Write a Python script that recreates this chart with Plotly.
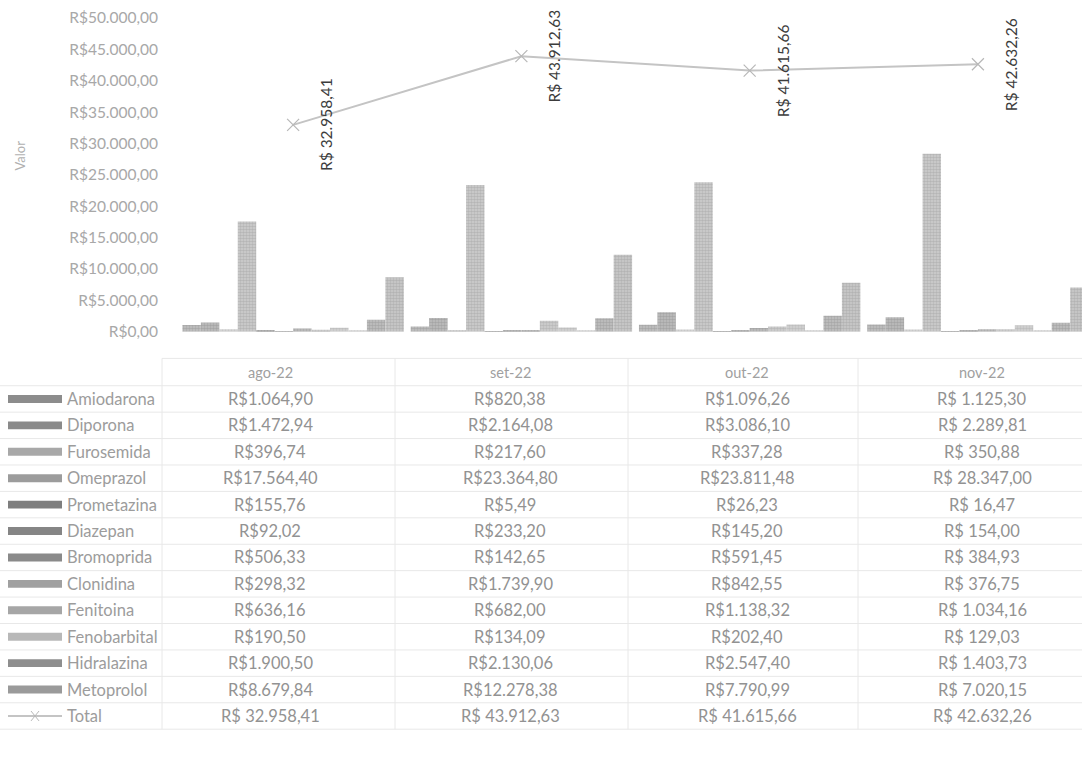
import plotly.graph_objects as go

# ---------------- data ----------------
months = ["ago-22", "set-22", "out-22", "nov-22"]
medicines = ["Amiodarona", "Diporona", "Furosemida", "Omeprazol", "Prometazina",
             "Diazepan", "Bromoprida", "Clonidina", "Fenitoina", "Fenobarbital",
             "Hidralazina", "Metoprolol"]
amiodarona = [1064.90, 820.38, 1096.26, 1125.30]
diporona = [1472.94, 2164.08, 3086.10, 2289.81]
furosemida = [396.74, 217.60, 337.28, 350.88]
omeprazol = [17564.40, 23364.80, 23811.48, 28347.00]
prometazina = [155.76, 5.49, 26.23, 16.47]
diazepan = [92.02, 233.20, 145.20, 154.00]
bromoprida = [506.33, 142.65, 591.45, 384.93]
clonidina = [298.32, 1739.90, 842.55, 376.75]
fenitoina = [636.16, 682.00, 1138.32, 1034.16]
fenobarbital = [190.50, 134.09, 202.40, 129.03]
hidralazina = [1900.50, 2130.06, 2547.40, 1403.73]
metoprolol = [8679.84, 12278.38, 7790.99, 7020.15]
total = [32958.41, 43912.63, 41615.66, 42632.26]

series_values = [amiodarona, diporona, furosemida, omeprazol, prometazina, diazepan,
                 bromoprida, clonidina, fenitoina, fenobarbital, hidralazina, metoprolol]

# ---------------- styles ----------------
fg = ["#8c8c8c", "#8a8a8a", "#a8a8a8", "#9c9c9c", "#7e7e7e", "#858585",
      "#8a8a8a", "#a0a0a0", "#a6a6a6", "#b8b8b8", "#8e8e8e", "#9a9a9a"]
bg = ["#c4c4c4", "#c0c0c0", "#d8d8d8", "#cfcfcf", "#b8b8b8", "#bdbdbd",
      "#c0c0c0", "#d2d2d2", "#d6d6d6", "#e2e2e2", "#c2c2c2", "#cccccc"]
FONT = "Lato"
W, H = 1082, 778
ML, MR, MT, MB = 179, 0, 18, 0
PW, PH = W - ML - MR, H - MT - MB


def xp(px):
    return (px - ML) / PW


def yp(py):
    return (H - MB - py) / PH


def brl(v, space=False):
    s = f"{v:,.2f}".replace(",", "X").replace(".", ",").replace("X", ".")
    return ("R$ " if space else "R$") + s


def note(px, py, text, size=14, color="#8a8a8a", xanchor="center", angle=0):
    fig.add_annotation(x=xp(px), y=yp(py), xref="paper", yref="paper", text=text,
                       xanchor=xanchor, yanchor="middle", textangle=angle,
                       showarrow=False, font=dict(family=FONT, size=size, color=color))


fig = go.Figure()
for i, (name, vals) in enumerate(zip(medicines, series_values)):
    fig.add_trace(go.Bar(
        x=months, y=vals, name=name,
        marker=dict(color=bg[i], line=dict(width=0),
                    pattern=dict(shape=".", fgcolor=fg[i], bgcolor=bg[i], size=3, solidity=0.6)),
        showlegend=False))

fig.add_trace(go.Scatter(
    x=months, y=total, name="Total", mode="lines+markers",
    line=dict(color="#c4c4c4", width=2),
    marker=dict(symbol="x-thin", size=12, line=dict(color="#b8b8b8", width=1.2)),
    showlegend=False))

# data labels for total (rotated)
for m, v in zip(months, total):
    fig.add_annotation(x=m, y=v, xref="x", yref="y", text=brl(v, space=True),
                       textangle=-90, showarrow=False, xshift=33,
                       xanchor="center", yanchor="middle",
                       font=dict(family=FONT, size=15.5, color="#3c3c3c"))

# axis title
note(20, 157, "Valor", size=13, color="#b0b0b0", angle=-90)

# ---------------- data table ----------------
col_centers = [270, 510, 747, 982]
col_lines = [162, 395, 628, 858]
row_y0 = 403
row_h = 26.7
header_y = 376
table_top = 362

shapes = []
n_rows = len(medicines) + 1
table_bottom = row_y0 - row_h / 2 + n_rows * row_h
for k in range(n_rows + 1):
    yy = row_y0 - row_h / 2 + k * row_h
    shapes.append(dict(type="line", xref="paper", yref="paper", x0=xp(0), x1=xp(W),
                       y0=yp(yy), y1=yp(yy), line=dict(color="#e8e8e8", width=1)))
shapes.append(dict(type="line", xref="paper", yref="paper", x0=xp(162), x1=xp(W),
                   y0=yp(table_top), y1=yp(table_top), line=dict(color="#e8e8e8", width=1)))
for cx in col_lines:
    shapes.append(dict(type="line", xref="paper", yref="paper", x0=xp(cx), x1=xp(cx),
                       y0=yp(table_top), y1=yp(table_bottom),
                       line=dict(color="#e8e8e8", width=1)))

for m, cx in zip(months, col_centers):
    note(cx, header_y, m, size=14.5, color="#a0a0a0")

for i, (name, vals) in enumerate(zip(medicines, series_values)):
    yy = row_y0 + i * row_h
    shapes.append(dict(type="rect", xref="paper", yref="paper", x0=xp(8), x1=xp(62),
                       y0=yp(yy + 4), y1=yp(yy - 4), line=dict(width=0),
                       fillcolor=fg[i]))
    note(65, yy, name, size=16.5, color="#9c9c9c", xanchor="left")
    for j, (v, cx) in enumerate(zip(vals, col_centers)):
        note(cx, yy, brl(v, space=(j == 3)), size=16.5, color="#929292")

yy = row_y0 + len(medicines) * row_h
shapes.append(dict(type="line", xref="paper", yref="paper", x0=xp(8), x1=xp(62),
                   y0=yp(yy), y1=yp(yy), line=dict(color="#c4c4c4", width=2)))
shapes.append(dict(type="line", xref="paper", yref="paper", x0=xp(31), x1=xp(39),
                   y0=yp(yy - 5), y1=yp(yy + 5), line=dict(color="#b8b8b8", width=1)))
shapes.append(dict(type="line", xref="paper", yref="paper", x0=xp(31), x1=xp(39),
                   y0=yp(yy + 5), y1=yp(yy - 5), line=dict(color="#b8b8b8", width=1)))
note(65, yy, "Total", size=16.5, color="#9c9c9c", xanchor="left")
for v, cx in zip(total, col_centers):
    note(cx, yy, brl(v, space=True), size=16.5, color="#929292")

fig.update_layout(
    width=W, height=H, autosize=False,
    margin=dict(l=ML, r=MR, t=MT, b=MB),
    paper_bgcolor="white", plot_bgcolor="white",
    separators=",.",
    barmode="group", bargap=0.03, bargroupgap=0,
    shapes=shapes,
    font=dict(family=FONT),
    xaxis=dict(type="category", range=[-0.5, 3.456], showticklabels=False,
               showgrid=False, zeroline=False, showline=False),
    yaxis=dict(range=[0, 50000], dtick=5000, tickprefix="R$", tickformat=",.2f",
               domain=[yp(335), 1.0], showgrid=False, zeroline=False, showline=False,
               ticklabelstandoff=20,
               tickfont=dict(family=FONT, size=15.5, color="#a8a8a8")),
)

fig.write_html("out.html", config={"responsive": False, "displayModeBar": False},
               post_script="document.body.style.margin='0px';")
